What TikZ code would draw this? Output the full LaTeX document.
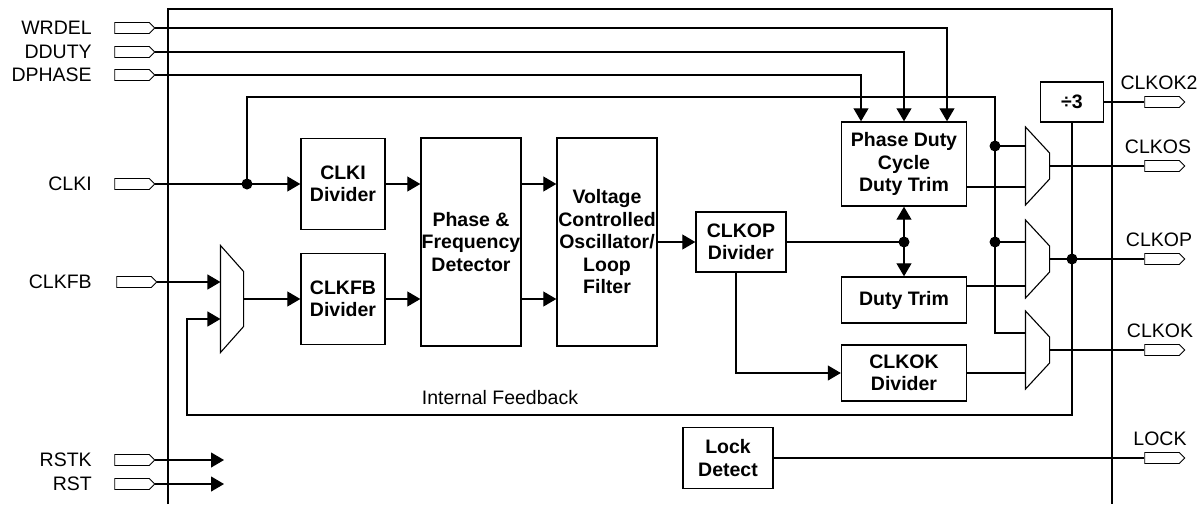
\documentclass[tikz,border=0pt]{standalone}
\usepackage{fontspec}
\setmainfont{Liberation Sans}
\usepackage{tikz}
\usetikzlibrary{shapes.symbols,arrows.meta,positioning,calc}

\begin{document}
\begin{tikzpicture}[
  x=1pt, y=-1pt,
  line width=1.1pt,
  >={Triangle[length=13pt,width=15pt]},
  blk/.style={draw, line width=1.4pt, align=center, inner sep=0pt,
    font=\bfseries\fontsize{19.5}{22.5}\selectfont},
  port/.style={draw, shape=signal, signal to=east, minimum width=40pt,
    minimum height=11pt, inner sep=0pt, line width=0.9pt},
  mux/.style={inner sep=0pt, minimum width=23pt, minimum height=77pt},
  lbl/.style={inner sep=0pt, font=\fontsize{19.5}{22.5}\selectfont}
]
\useasboundingbox (0,0) rectangle (1202,504);
% chip outline (open at the bottom)
\draw[line width=1.4pt] (168,504) |- (1112,9) -- (1112,504);

% blocks
\node[blk, minimum width=84pt, minimum height=91pt] (clkidiv) at (343,184) {CLKI\\Divider};
\node[blk, minimum width=84pt, minimum height=91pt] (clkfbdiv) at (343,299) {CLKFB\\Divider};
\node[blk, minimum width=100pt, minimum height=208pt] (pfd) at (471,242) {Phase \&\\Frequency\\Detector};
\node[blk, minimum width=100pt, minimum height=208pt] (vco) at (607,242) {Voltage\\Controlled\\Oscillator/\\Loop\\Filter};
\node[blk, minimum width=90pt, minimum height=60pt] (clkopdiv) at (741,242) {CLKOP\\Divider};
\node[blk, minimum width=125pt, minimum height=84pt] (pdc) at (904,164) {Phase Duty\\Cycle\\Duty Trim};
\node[blk, minimum width=125pt, minimum height=46pt] (dutytrim) at (904,300) {Duty Trim};
\node[blk, minimum width=125pt, minimum height=56pt] (clkokdiv) at (904,373) {CLKOK\\Divider};
\node[blk, minimum width=63pt, minimum height=40pt] (div3) at (1072,102) {÷3};
\node[blk, minimum width=90pt, minimum height=61pt] (lockdet) at (728,458) {Lock\\Detect};

% muxes
\node[mux, minimum width=22pt, minimum height=106pt] (mfb) at (232,299) {};
\node[mux] (mos) at (1037.5,166) {};
\node[mux] (mop) at (1037.5,259) {};
\node[mux] (mok) at (1037.5,350) {};
\foreach \m in {mfb,mos,mop,mok}
  \draw (\m.north west) -- ([yshift=-26pt]\m.north east) -- ([yshift=26pt]\m.south east) -- (\m.south west) -- cycle;

% input pins
\node[port] (pwrdel) at (132,28) {};
\node[port] (pdduty) at (132,52) {};
\node[port] (pdphase) at (132,75) {};
\node[port] (pclki) at (132,184) {};
\node[port] (pclkfb) at (134,282) {};
\node[port] (prstk) at (132,460) {};
\node[port] (prst) at (132,484) {};
\node[lbl, left=22pt of pwrdel] {WRDEL};
\node[lbl, left=22pt of pdduty] {DDUTY};
\node[lbl, left=22pt of pdphase] {DPHASE};
\node[lbl, left=22pt of pclki] {CLKI};
\node[lbl, left=22pt of pclkfb, xshift=-2pt] {CLKFB};
\node[lbl, left=22pt of prstk] {RSTK};
\node[lbl, left=22pt of prst] {RST};

% output pins
\node[port] (pclkok2) at (1162,102) {};
\node[port] (pclkos) at (1162,166) {};
\node[port] (pclkop) at (1162,259) {};
\node[port] (pclkok) at (1162,350) {};
\node[port] (plock) at (1162,458) {};
\node[lbl, above=6pt of pclkok2, xshift=-3pt] {CLKOK2};
\node[lbl, above=6pt of pclkos, xshift=-4pt] {CLKOS};
\node[lbl, above=6pt of pclkop, xshift=-3pt] {CLKOP};
\node[lbl, above=6pt of pclkok, xshift=-2pt] {CLKOK};
\node[lbl, above=6pt of plock, xshift=-2pt] {LOCK};

\node[lbl, anchor=base] (fblabel) at (500,404) {Internal Feedback};

% junctions
\coordinate (tapi) at (247,184);
\coordinate (bus) at (995,97);
\coordinate (jos) at (995,146);
\coordinate (jop) at (995,242);
\coordinate (jclk) at (pdc.south |- clkopdiv.east);
\coordinate (jfb) at (div3.south |- mop.east);
\coordinate (fbl) at (187,415);
\coordinate (rstkend) at (224,460);
\coordinate (rstend) at (224,484);

% dynamic control inputs
\draw[->] (pwrdel.east) -| ([xshift=43pt]pdc.north);
\draw[->] (pdduty.east) -| (pdc.north);
\draw[->] (pdphase.east) -| ([xshift=-43pt]pdc.north);

% reference path
\draw[->] (pclki.east) -- (clkidiv.west);
\draw (tapi) |- (bus) |- ([yshift=17pt]mok.west);
\draw (jos) -- (jos -| mos.west);
\draw (jop) -- (jop -| mop.west);
\draw[->] (pclkfb.east) -- (pclkfb.east -| mfb.west);
\draw[->] (mfb.east) -- (clkfbdiv.west);
\draw[->] (clkidiv.east) -- (clkidiv.east -| pfd.west);
\draw[->] (clkfbdiv.east) -- (clkfbdiv.east -| pfd.west);
\draw[->] (pfd.east |- clkidiv.east) -- (vco.west |- clkidiv.east);
\draw[->] (pfd.east |- clkfbdiv.east) -- (vco.west |- clkfbdiv.east);
\draw[->] (vco.east) -- (clkopdiv.west);

% output dividers
\draw (clkopdiv.east) -- (jclk);
\draw[->] (jclk) -- (pdc.south);
\draw[->] (jclk) -- (dutytrim.north);
\draw[->] ([xshift=-5pt]clkopdiv.south) |- (clkokdiv.west);
\draw ([yshift=-23pt]pdc.east) -- ([yshift=-23pt]pdc.east -| mos.west);
\draw ([yshift=14pt]dutytrim.east) -- ([yshift=14pt]dutytrim.east -| mop.west);
\draw (clkokdiv.east) -- (clkokdiv.east -| mok.west);
\draw (mos.east) -- (pclkos.west);
\draw (mop.east) -- (pclkop.west);
\draw (mok.east) -- (pclkok.west);
\draw (div3.east) -- (pclkok2.west);
\draw[->] (div3.south) |- (fbl) |- ([yshift=-20pt]mfb.west);
\draw (lockdet.east) -- (plock.west);
\draw[->] (prstk.east) -- (rstkend);
\draw[->] (prst.east) -- (rstend);

\foreach \j in {tapi,jos,jop,jclk,jfb}
  \fill (\j) circle (5.5pt);
\end{tikzpicture}
\end{document}
